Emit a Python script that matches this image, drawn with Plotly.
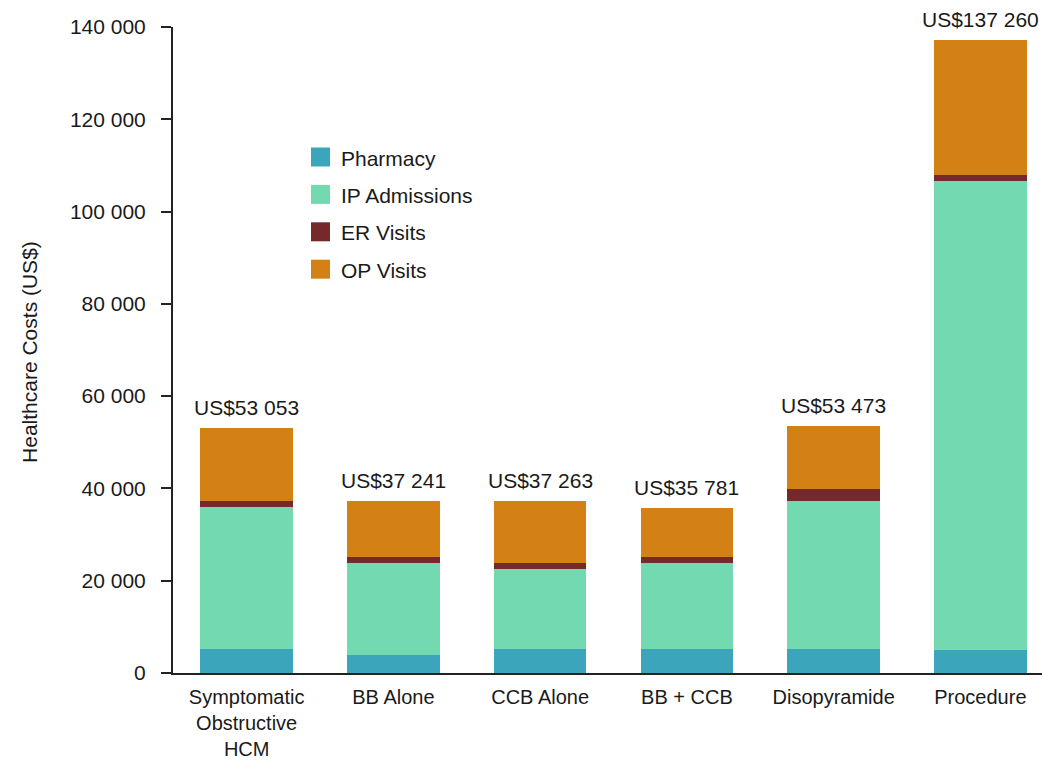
import plotly.graph_objects as go

# Mean healthcare costs per patient by treatment group
categories = ["Symptomatic<br>Obstructive<br>HCM", "BB Alone", "CCB Alone",
              "BB + CCB", "Disopyramide", "Procedure"]
series_names = ["Pharmacy", "IP Admissions", "ER Visits", "OP Visits"]
pharmacy = [5100, 3900, 5100, 5300, 5100, 5000]
ip_admissions = [30850, 20000, 17400, 18500, 32150, 101600]
er_visits = [1300, 1300, 1400, 1400, 2700, 1400]
op_visits = [15803, 12041, 13363, 10581, 13523, 29260]
totals = [53053, 37241, 37263, 35781, 53473, 137260]
y_ticks = [0, 20000, 40000, 60000, 80000, 100000, 120000, 140000]

colors = ["#3BA6BB", "#72D9B1", "#75292B", "#D38114"]
FONT = "Liberation Sans, Arial, Helvetica, sans-serif"
TEXT = "#1a1a1a"
FS = 21

W, H = 1042, 763
ML, MR, MT, MB = 173, 0, 27, 90
PW, PH = W - ML - MR, H - MT - MB

fig = go.Figure()
for name, vals, col in zip(series_names,
                           [pharmacy, ip_admissions, er_visits, op_visits],
                           colors):
    fig.add_trace(go.Bar(x=categories, y=vals, name=name,
                         marker=dict(color=col, line=dict(width=0)),
                         showlegend=False))

# total labels above each stack
for cat, tot in zip(categories, totals):
    fig.add_annotation(x=cat, y=tot, xref="x", yref="y",
                       text="US$" + f"{tot:,}".replace(",", " "),
                       showarrow=False, yanchor="bottom", yshift=7,
                       font=dict(family=FONT, size=FS, color=TEXT))

# legend drawn as swatches + labels inside the plot area
def px_x(p):
    return (p - ML) / PW

def px_y(p):
    return (MT + PH - p) / PH

leg_x0, sw = 311, 19
leg_y0, leg_dy = 157, 37.4
for i, (name, col) in enumerate(zip(series_names, colors)):
    cy = leg_y0 + i * leg_dy
    fig.add_shape(type="rect", xref="paper", yref="paper",
                  x0=px_x(leg_x0), x1=px_x(leg_x0 + sw),
                  y0=px_y(cy + sw / 2), y1=px_y(cy - sw / 2),
                  fillcolor=col, line=dict(width=0))
    fig.add_annotation(xref="paper", yref="paper",
                       x=px_x(leg_x0 + sw + 9), y=px_y(cy + 1),
                       text=name, showarrow=False,
                       xanchor="left", yanchor="middle",
                       font=dict(family=FONT, size=FS, color=TEXT))

# y-axis title
fig.add_annotation(xref="paper", yref="paper", x=px_x(30), y=0.497,
                   text="Healthcare Costs (US$)", textangle=-90,
                   showarrow=False, xanchor="center", yanchor="middle",
                   font=dict(family=FONT, size=FS, color=TEXT))

fig.update_layout(
    barmode="stack",
    bargap=0.37,
    width=W, height=H,
    margin=dict(l=ML, r=MR, t=MT, b=MB, pad=0, autoexpand=False),
    paper_bgcolor="white", plot_bgcolor="white",
    separators=". ",
    font=dict(family=FONT, size=FS, color=TEXT),
    xaxis=dict(range=[-0.502, 5.42], showline=True, linecolor="#222",
               linewidth=2, ticks="", showgrid=False, zeroline=False,
               automargin=False, ticklabelstandoff=5,
               tickfont=dict(size=20, color=TEXT)),
    yaxis=dict(range=[0, 140000], tickvals=y_ticks, tickformat=",d",
               showline=True, linecolor="#222", linewidth=2,
               ticks="outside", ticklen=10, tickwidth=2, tickcolor="#222",
               showgrid=False, zeroline=False, automargin=False,
               ticklabelstandoff=11,
               tickfont=dict(size=FS, color=TEXT)),
)

fig.write_html("out.html")
